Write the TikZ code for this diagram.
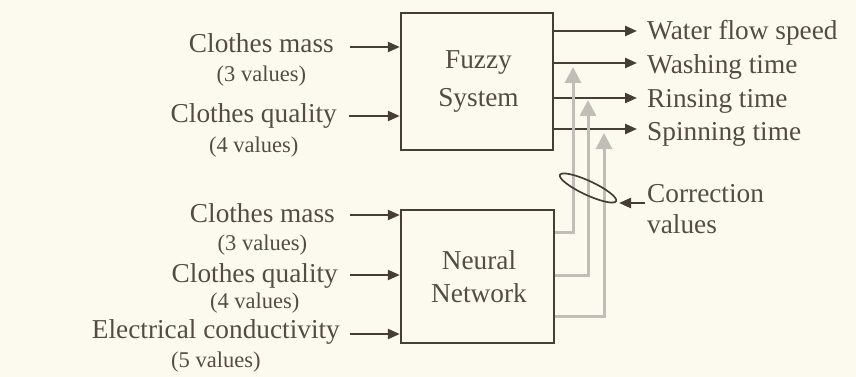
\documentclass[tikz,border=0pt]{standalone}
\usepackage{fontspec}
\setmainfont{Liberation Serif}
\usetikzlibrary{arrows.meta,calc}
\definecolor{bg}{RGB}{252,250,238}
\definecolor{ink}{RGB}{84,76,66}
\definecolor{linec}{RGB}{70,62,54}
\definecolor{gr}{RGB}{194,189,182}
\begin{document}
\begin{tikzpicture}[x=1pt,y=-1pt,
 mainlab/.style={font=\fontsize{27.3}{31}\selectfont, text=ink, inner sep=0pt},
 sublab/.style={font=\fontsize{22.5}{26}\selectfont, text=ink, inner sep=0pt},
 blockbox/.style={draw=linec, line width=2.4pt, inner sep=0pt, text=ink, align=center},
 arr/.style={draw=linec, line width=2.3pt, -{Triangle[length=12pt,width=10pt]}},
 garr/.style={draw=gr, line width=3pt, -{Triangle[length=16pt,width=16pt]}},
]
\useasboundingbox[fill=bg] (0,0) rectangle (856,377);

% blocks
\node[blockbox, minimum width=152pt, minimum height=137pt, font=\fontsize{27.3}{38}\selectfont] (fuzzy) at (477,81.5) {\hspace*{3pt}Fuzzy\\\hspace*{3pt}System};
\node[blockbox, minimum width=153pt, minimum height=133pt, font=\fontsize{27.3}{33}\selectfont] (nn) at (477.5,276.5) {\hspace*{3pt}Neural\\\hspace*{3pt}Network};

% upper inputs
\node[mainlab, anchor=base east] (in1) at (334,53) {Clothes mass};
\node[sublab, anchor=base] (in1v) at ($(in1.base)+(0,29)$) {(3 values)};
\node[mainlab, anchor=base east] (in2) at (337,123) {Clothes quality};
\node[sublab, anchor=base] (in2v) at ($(in2.base)+(0,29)$) {(4 values)};
\coordinate (a1) at ($(in1.base east)+(16,-6)$);
\coordinate (a2) at ($(in2.base east)+(12,-7)$);
\draw[arr] (a1) -- (fuzzy.west |- a1);
\draw[arr] (a2) -- (fuzzy.west |- a2);

% lower inputs
\node[mainlab, anchor=base east] (in3) at (335,222) {Clothes mass};
\node[sublab, anchor=base] (in3v) at ($(in3.base)+(0,28)$) {(3 values)};
\node[mainlab, anchor=base east] (in4) at (338,282) {Clothes quality};
\node[sublab, anchor=base] (in4v) at ($(in4.base)+(0,26)$) {(4 values)};
\node[mainlab, anchor=base east] (in5) at (340,338) {Electrical conductivity};
\node[sublab, anchor=base] (in5v) at ($(in5.base)+(0,29)$) {(5 values)};
\coordinate (a3) at ($(in3.base east)+(15,-7)$);
\coordinate (a4) at ($(in4.base east)+(12,-7)$);
\coordinate (a5) at ($(in5.base east)+(10,-4)$);
\draw[arr] (a3) -- (nn.west |- a3);
\draw[arr] (a4) -- (nn.west |- a4);
\draw[arr] (a5) -- (nn.west |- a5);

% outputs
\node[mainlab, anchor=base west] (o1) at (647,40) {Water flow speed};
\node[mainlab, anchor=base west] (o2) at (647,74) {Washing time};
\node[mainlab, anchor=base west] (o3) at (647,107) {Rinsing time};
\node[mainlab, anchor=base west] (o4) at (647,140) {Spinning time};
\coordinate (t1) at ($(o1.base west)+(-10,-9)$);
\coordinate (t2) at ($(o2.base west)+(-10,-11)$);
\coordinate (t3) at ($(o3.base west)+(-10,-9)$);
\coordinate (t4) at ($(o4.base west)+(-10,-11)$);
\draw[arr] (fuzzy.east |- t1) -- (t1);
\draw[arr] (fuzzy.east |- t2) -- (t2);
\draw[arr] (fuzzy.east |- t3) -- (t3);
\draw[arr] (fuzzy.east |- t4) -- (t4);

% corrections from neural network
\coordinate (s1) at ($(nn.north east)+(0,24)$);
\coordinate (s2) at ($(nn.north east)+(0,67)$);
\coordinate (s3) at ($(nn.north east)+(0,108)$);
\coordinate (g1) at (573,67);
\coordinate (g2) at (588,100);
\coordinate (g3) at (604,133);
\draw[garr] (s1) -| (g1);
\draw[garr] (s2) -| (g2);
\draw[garr] (s3) -| (g3);

% bundle ellipse and label
\draw[draw=linec, line width=1.7pt, rotate around={-25:(588,188)}] (588,188) ellipse [x radius=31, y radius=7];
\coordinate (ellR) at (619,203);
\node[mainlab, anchor=base west] (corr) at (647,202) {Correction};
\node[mainlab, anchor=base west] (corr2) at (647,233) {values};
\draw[arr] ($(corr.base west)+(-2,1)$) -- (ellR);
\end{tikzpicture}
\end{document}
